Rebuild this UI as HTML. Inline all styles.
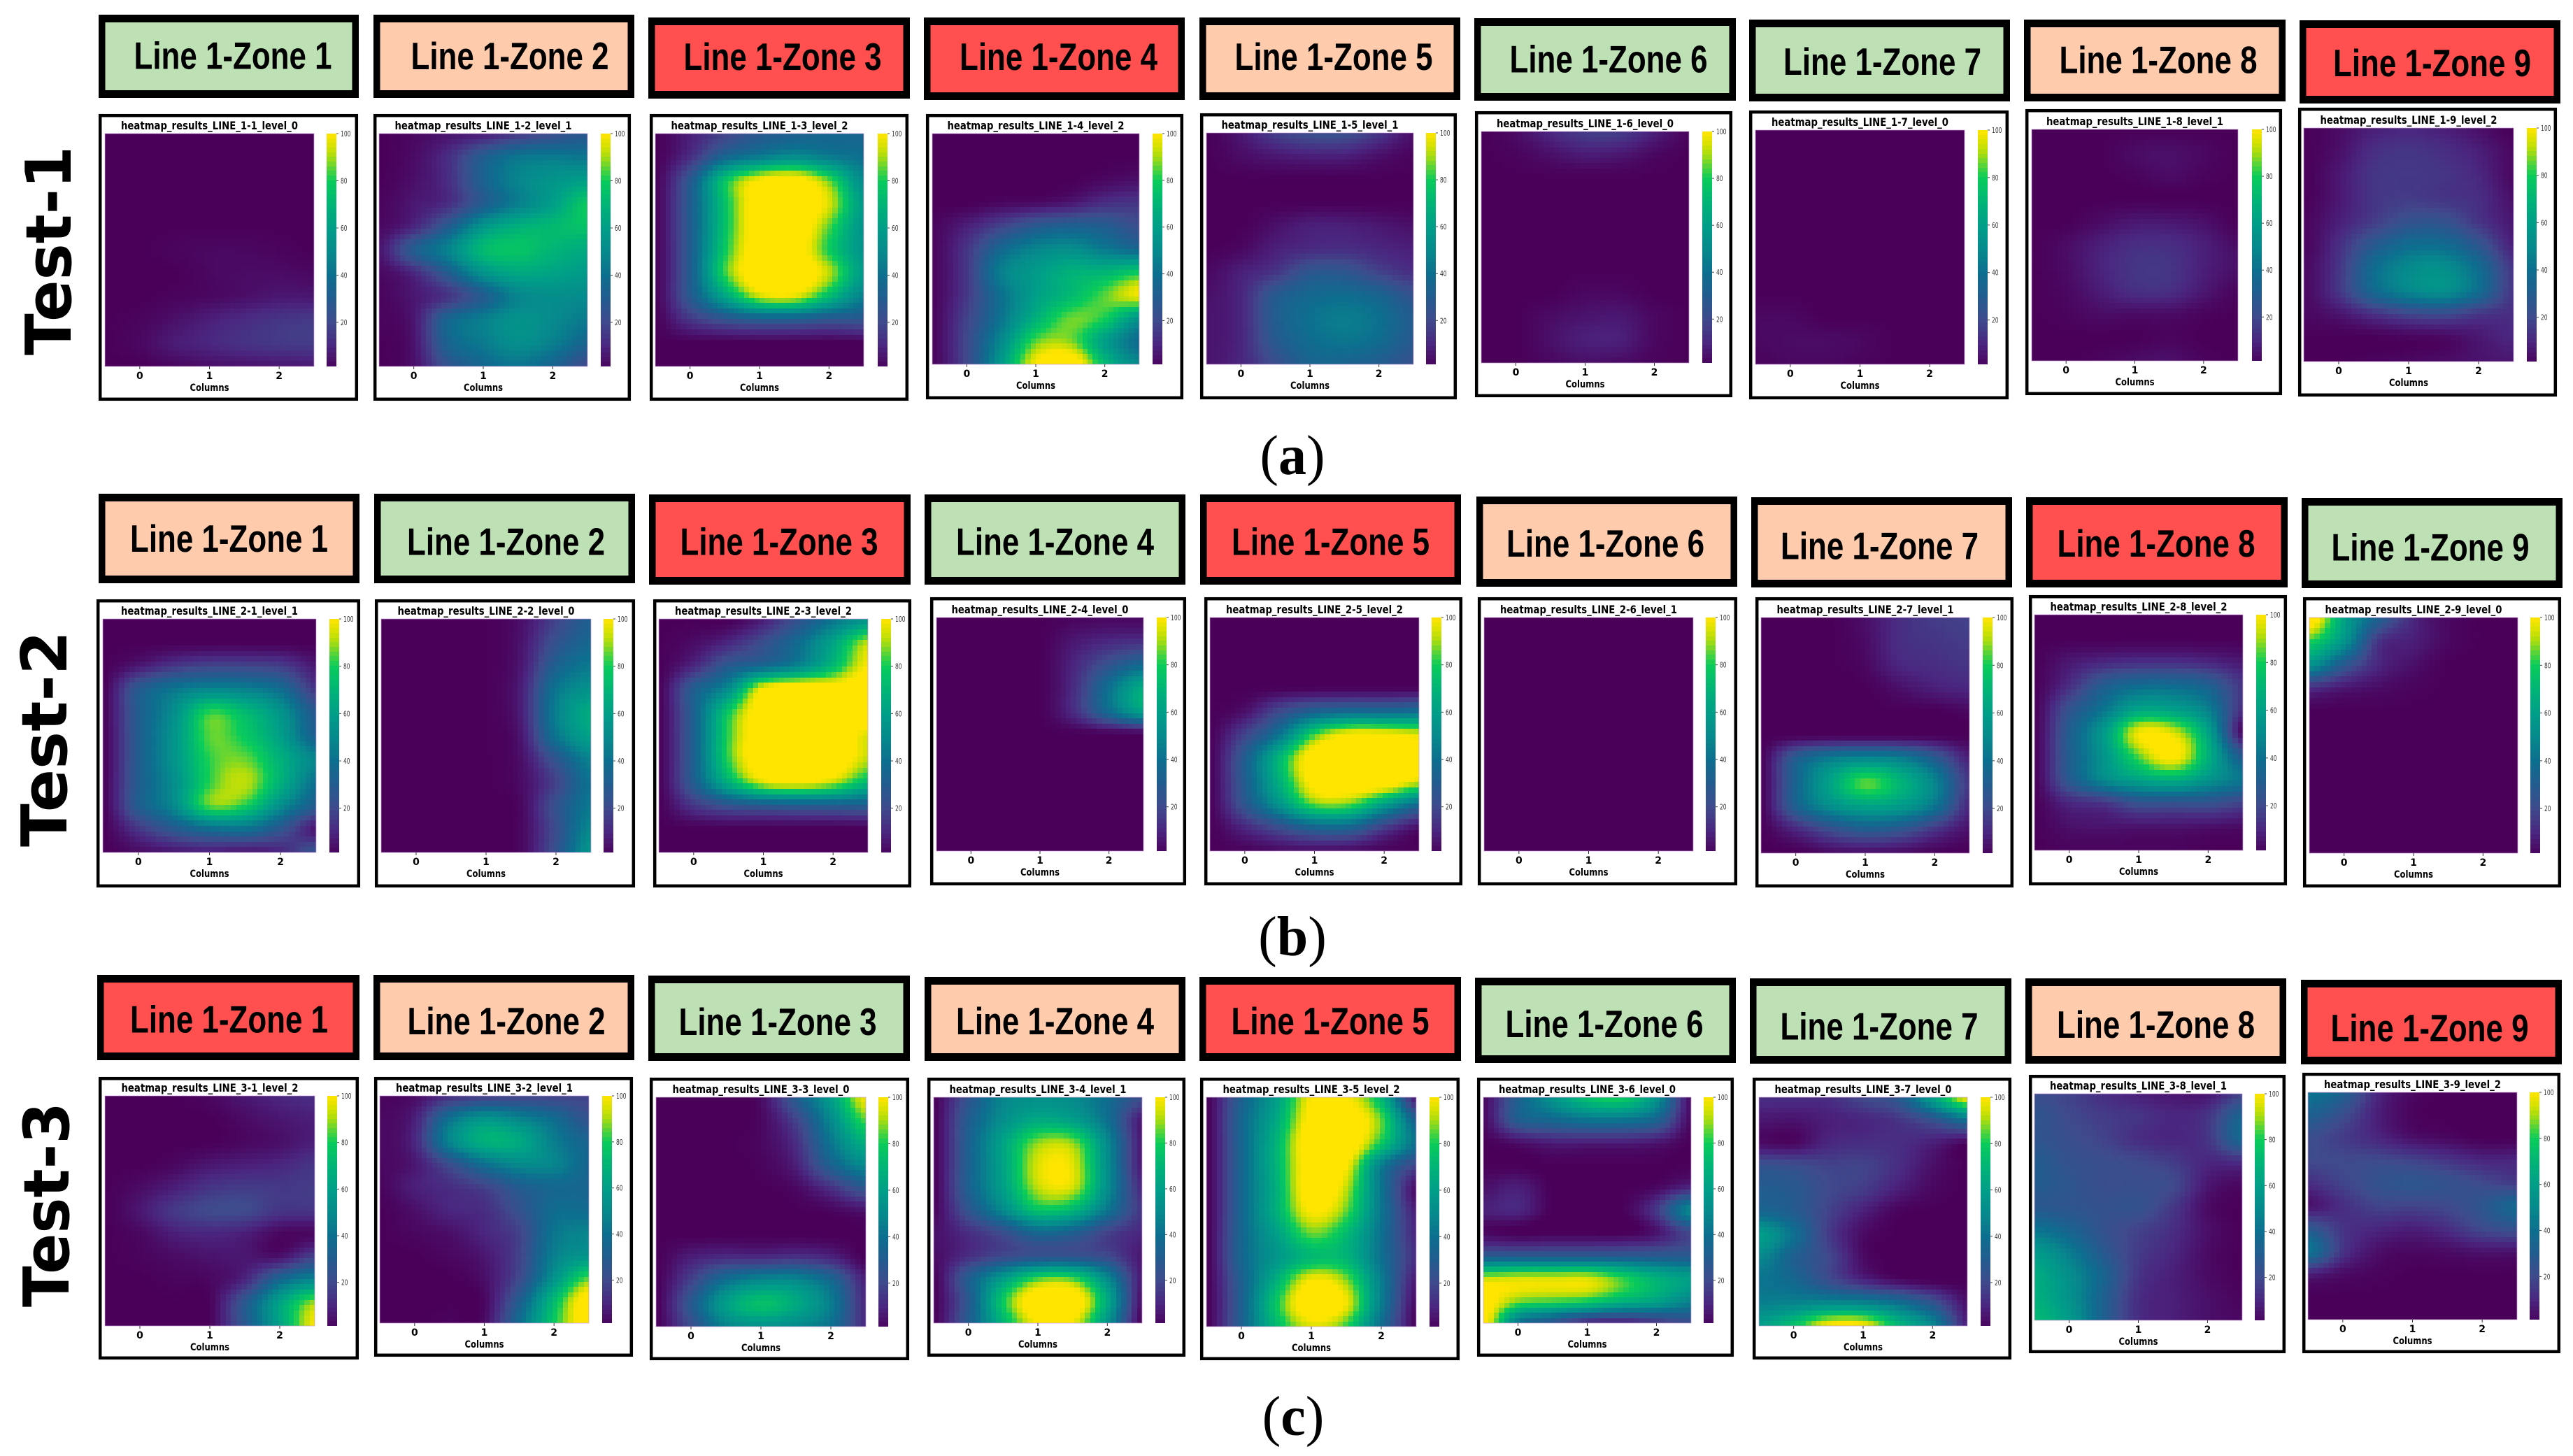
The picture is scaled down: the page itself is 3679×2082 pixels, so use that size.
<!DOCTYPE html>
<html lang="en">
<head>
<meta charset="utf-8">
<title>Heatmap results by line zone for Test-1, Test-2 and Test-3</title>
<style>
  html, body { margin: 0; padding: 0; background: #fff; }
  svg { display: block; }
  .zone-text { font-family: "Liberation Sans", sans-serif; font-weight: 700; font-size: 55px; fill: #000; }
  .panel-title { font-family: "DejaVu Sans", sans-serif; font-weight: 700; font-size: 16px; fill: #000; }
  .tick-text { font-family: "DejaVu Sans", sans-serif; font-weight: 700; font-size: 14px; fill: #000; }
  .cb-text { font-family: "DejaVu Sans", sans-serif; font-size: 10.5px; fill: #333; }
  .row-title { font-family: "DejaVu Sans", sans-serif; font-weight: 700; font-size: 90px; fill: #000; }
  .sub-caption { font-family: "Liberation Serif", serif; font-size: 80px; fill: #000; }
</style>
</head>
<body>
<svg id="figure" xmlns="http://www.w3.org/2000/svg" width="3679" height="2082" viewBox="0 0 3679 2082">
  <rect x="0" y="0" width="3679" height="2082" fill="#ffffff"/>
  <text class="row-title" transform="translate(101,508) rotate(-90)" textLength="299" lengthAdjust="spacingAndGlyphs">Test-1</text>
  <text class="row-title" transform="translate(95,1211) rotate(-90)" textLength="309" lengthAdjust="spacingAndGlyphs">Test-2</text>
  <text class="row-title" transform="translate(98,1869) rotate(-90)" textLength="293" lengthAdjust="spacingAndGlyphs">Test-3</text>
  <text class="sub-caption" x="1848" y="678" text-anchor="middle">(<tspan font-weight="700">a</tspan>)</text>
  <text class="sub-caption" x="1848" y="1366" text-anchor="middle">(<tspan font-weight="700">b</tspan>)</text>
  <text class="sub-caption" x="1849" y="2052" text-anchor="middle">(<tspan font-weight="700">c</tspan>)</text>
</svg>
<script>
// ---------- tick labels and text ----------
const columnTicks = ['0', '1', '2'];
const colorbarTicks = [20, 40, 60, 80, 100];
const xAxisTitle = 'Columns';
const zoneLabels = ['Line 1-Zone 1','Line 1-Zone 2','Line 1-Zone 3','Line 1-Zone 4','Line 1-Zone 5','Line 1-Zone 6','Line 1-Zone 7','Line 1-Zone 8','Line 1-Zone 9'];
const panelTitles = [
  'heatmap_results_LINE_1-1_level_0','heatmap_results_LINE_1-2_level_1','heatmap_results_LINE_1-3_level_2','heatmap_results_LINE_1-4_level_2','heatmap_results_LINE_1-5_level_1','heatmap_results_LINE_1-6_level_0','heatmap_results_LINE_1-7_level_0','heatmap_results_LINE_1-8_level_1','heatmap_results_LINE_1-9_level_2',
  'heatmap_results_LINE_2-1_level_1','heatmap_results_LINE_2-2_level_0','heatmap_results_LINE_2-3_level_2','heatmap_results_LINE_2-4_level_0','heatmap_results_LINE_2-5_level_2','heatmap_results_LINE_2-6_level_1','heatmap_results_LINE_2-7_level_1','heatmap_results_LINE_2-8_level_2','heatmap_results_LINE_2-9_level_0',
  'heatmap_results_LINE_3-1_level_2','heatmap_results_LINE_3-2_level_1','heatmap_results_LINE_3-3_level_0','heatmap_results_LINE_3-4_level_1','heatmap_results_LINE_3-5_level_2','heatmap_results_LINE_3-6_level_0','heatmap_results_LINE_3-7_level_0','heatmap_results_LINE_3-8_level_1','heatmap_results_LINE_3-9_level_2'
];
const panelLevels = [0,1,2,2,1,0,0,1,2, 1,0,2,0,2,1,1,2,0, 2,1,0,1,2,0,0,1,2];

// ---------- heatmap values: 11 rows (top to bottom) x 7 samples (left to right) ----------
const line1Zone1 = [[0,0,0,0,0,0,0],[0,0,0,0,0,0,0],[0,0,0,0,0,0,0],[0,0,0,0,0,0,0],[0,0,0,0,0,0,0],[0,0,1,2,2,1,0],[0,0,0,2,3,3,2],[0,0,1,2,4,6,6],[0,1,4,8,11,14,15],[0,2,7,10,13,15,16],[0,0,2,4,5,6,7]];
const line1Zone2 = [[0,2,5,8,15,22,28],[0,3,12,30,42,44,42],[0,4,12,33,48,55,60],[1,6,12,30,46,60,78],[2,10,30,56,68,72,76],[5,30,48,72,76,70,65],[2,10,30,54,64,62,58],[1,6,14,30,48,52,50],[1,6,35,46,54,50,44],[0,5,34,44,52,46,34],[0,4,25,36,42,34,20]];
const line1Zone3 = [[0,8,18,28,32,35,35],[0,12,35,45,52,45,40],[0,28,75,100,105,85,50],[0,30,75,108,110,95,58],[0,30,75,108,110,85,55],[0,30,78,108,108,80,55],[0,30,82,110,110,92,58],[0,28,62,92,95,72,46],[0,14,24,30,30,26,26],[0,0,0,0,0,0,0],[0,0,0,0,0,0,0]];
const line1Zone4 = [[0,0,0,0,0,0,0],[0,0,0,0,0,0,0],[0,0,0,0,0,2,4],[0,0,2,3,6,12,14],[1,8,18,28,32,30,22],[1,14,36,48,52,44,36],[1,15,46,58,68,70,78],[1,15,40,60,72,85,98],[1,18,42,68,86,80,55],[1,20,50,85,88,60,38],[1,20,58,100,110,72,50]];
const line1Zone5 = [[0,6,16,22,22,14,4],[0,3,6,8,8,4,1],[0,0,0,0,0,0,0],[0,0,0,0,0,0,0],[0,0,4,8,8,6,4],[0,2,8,11,12,10,8],[2,8,14,26,26,18,12],[4,10,28,36,38,34,24],[5,10,30,40,45,40,30],[5,10,28,38,42,38,28],[5,10,22,34,34,30,24]];
const line1Zone6 = [[0,3,10,16,16,8,1],[0,1,4,7,6,2,0],[0,0,0,0,0,0,0],[0,0,0,0,0,0,0],[0,0,0,0,0,0,0],[0,0,0,0,0,0,0],[0,0,0,0,0,0,0],[0,0,0,2,2,0,0],[0,0,3,5,6,2,0],[0,0,4,8,8,2,0],[0,0,2,4,3,1,0]];
const line1Zone7 = [[0,0,0,0,0,0,0],[0,0,0,0,0,0,0],[0,0,0,0,0,0,0],[0,0,0,0,0,0,0],[0,0,0,0,0,0,0],[0,0,0,0,0,0,0],[0,0,0,0,0,0,0],[0,0,0,0,0,0,0],[2,2,0,0,0,0,0],[2,3,3,2,0,0,0],[1,2,2,1,0,0,0]];
const line1Zone8 = [[0,0,0,0,0,0,0],[0,0,0,3,4,2,0],[0,0,0,1,3,1,0],[0,0,0,0,0,0,0],[0,0,3,6,6,4,0],[0,3,8,12,12,8,3],[0,3,9,14,14,8,4],[0,2,7,12,12,6,1],[0,1,3,3,3,1,0],[0,0,0,0,1,0,0],[0,0,1,3,4,1,0]];
const line1Zone9 = [[0,3,8,10,8,4,0],[0,4,12,14,12,8,2],[0,6,14,15,14,10,2],[0,6,14,16,14,12,4],[1,8,16,24,24,14,6],[1,12,28,38,38,26,8],[2,14,38,50,52,38,14],[2,14,36,48,52,38,14],[2,5,12,18,20,14,12],[0,0,0,1,2,6,10],[0,0,1,2,3,5,6]];

const line2Zone1 = [[0,0,0,0,0,0,0],[0,0,0,0,0,0,0],[0,6,14,18,18,16,6],[0,28,42,48,46,38,14],[0,30,52,82,72,55,28],[0,30,55,85,78,60,32],[0,30,55,82,86,68,48],[0,30,52,82,92,68,40],[0,30,50,85,80,52,30],[0,14,28,38,40,26,6],[0,3,6,8,6,10,25]];
const line2Zone2 = [[0,0,0,0,4,18,32],[0,0,0,0,5,24,36],[0,0,0,0,6,32,44],[0,0,0,0,8,42,54],[0,0,0,0,8,46,66],[0,0,0,0,6,42,62],[0,0,0,0,4,26,48],[0,0,0,0,3,18,42],[0,0,0,0,2,24,44],[0,0,0,0,2,22,50],[0,0,0,0,2,24,56]];
const line2Zone3 = [[0,0,0,8,24,42,55],[0,3,10,22,38,62,92],[0,10,28,36,48,72,100],[0,30,52,100,108,105,110],[0,32,78,108,110,110,110],[0,32,82,110,110,110,95],[0,32,82,110,110,110,92],[0,30,68,95,100,92,72],[0,14,24,28,30,30,30],[0,0,0,0,0,0,0],[0,0,0,0,0,0,0]];
const line2Zone4 = [[0,0,0,0,1,2,2],[0,0,0,0,6,10,12],[0,0,0,0,10,24,36],[0,0,0,0,12,40,66],[0,0,0,0,12,38,62],[0,0,0,0,0,0,0],[0,0,0,0,0,0,0],[0,0,0,0,0,0,0],[0,0,0,0,0,0,0],[0,0,0,0,0,0,0],[0,0,0,0,0,0,0]];
const line2Zone5 = [[0,0,0,0,0,0,0],[0,0,0,0,0,0,0],[0,0,0,0,0,0,0],[0,0,0,0,0,0,0],[0,4,20,32,36,36,38],[0,18,42,82,100,100,95],[0,30,70,108,110,110,105],[0,30,68,105,110,110,95],[0,26,55,85,85,60,38],[0,10,22,34,34,16,4],[0,1,3,4,3,1,0]];
const line2Zone6 = [[0,0,0,0,0,0,0],[0,0,0,0,0,0,0],[0,0,0,0,0,0,0],[0,0,0,0,0,0,0],[0,0,0,0,0,0,0],[0,0,0,0,0,0,0],[0,0,0,0,0,0,0],[0,0,0,0,0,0,0],[0,0,0,0,0,0,0],[0,0,0,0,0,0,0],[0,0,0,0,0,0,0]];
const line2Zone7 = [[0,0,0,4,12,16,18],[0,0,0,3,12,14,16],[0,0,0,2,10,12,14],[0,0,0,0,4,8,10],[0,0,0,0,0,0,2],[0,0,0,0,0,0,0],[0,30,45,50,46,30,8],[0,34,62,85,70,48,14],[0,32,52,62,58,42,10],[0,10,22,30,26,14,4],[0,0,3,4,3,1,0]];
const line2Zone8 = [[0,0,0,0,0,0,0],[0,0,0,0,0,0,0],[0,6,10,12,12,10,6],[0,12,30,38,38,32,14],[0,24,42,62,60,46,12],[0,30,58,98,95,62,2],[0,30,55,85,102,68,28],[0,28,50,62,68,55,42],[0,10,14,24,24,24,18],[0,4,5,5,5,4,3],[0,1,1,1,1,0,0]];
const line2Zone9 = [[110,62,32,10,2,0,0],[82,55,14,8,2,0,0],[55,28,10,4,0,0,0],[12,6,3,1,0,0,0],[0,0,0,0,0,0,0],[0,0,0,0,0,0,0],[0,0,0,0,0,0,0],[0,0,0,0,0,0,0],[0,0,0,0,0,0,0],[0,0,0,0,0,0,0],[0,0,0,0,0,0,0]];

const line3Zone1 = [[0,0,0,2,6,10,12],[0,0,0,0,3,6,8],[0,0,0,0,2,4,8],[0,0,2,6,8,10,14],[0,3,8,14,16,15,16],[0,6,15,20,20,14,14],[0,2,8,10,8,2,2],[0,1,3,5,6,5,18],[0,0,1,2,10,36,50],[0,0,0,1,28,62,90],[0,0,0,1,28,62,100]];
const line3Zone2 = [[1,3,12,16,18,18,18],[2,8,40,55,48,38,24],[2,10,48,68,65,45,34],[2,6,22,40,50,48,35],[1,8,12,18,30,36,35],[0,4,10,12,24,38,38],[0,2,4,10,18,42,48],[0,0,2,6,18,46,55],[0,0,0,4,20,54,85],[0,0,0,2,30,72,108],[0,0,1,3,38,78,108]];
const line3Zone3 = [[0,0,0,3,30,60,100],[0,0,0,2,18,50,85],[0,0,0,2,12,42,68],[0,0,0,1,8,32,50],[0,0,0,0,2,12,26],[0,0,0,0,0,1,4],[0,0,0,0,0,0,0],[0,8,12,12,14,10,0],[0,18,40,50,50,36,8],[0,28,60,75,65,45,10],[0,22,48,54,50,40,10]];
const line3Zone4 = [[0,25,48,52,50,38,22],[0,30,52,65,60,40,6],[0,32,62,88,88,50,6],[0,32,62,95,96,52,6],[0,32,60,92,94,52,10],[1,25,50,75,70,42,14],[4,12,22,36,32,18,10],[3,12,20,24,24,20,6],[0,30,58,82,82,50,6],[0,28,78,110,110,65,3],[0,30,70,100,98,55,0]];
const line3Zone5 = [[0,32,60,100,100,70,5],[0,35,65,105,110,85,32],[0,35,70,110,110,78,40],[0,35,70,108,100,45,18],[0,35,68,108,92,42,3],[0,35,68,100,85,42,8],[0,35,60,85,72,40,10],[0,35,56,72,70,40,12],[0,32,68,100,88,45,6],[0,32,78,110,98,45,2],[0,32,72,95,82,38,0]];
const line3Zone6 = [[2,32,55,75,80,55,2],[2,30,36,42,42,34,2],[0,4,8,8,8,6,0],[0,0,0,0,0,0,0],[4,8,0,0,0,2,10],[8,10,0,0,0,15,50],[2,0,0,0,0,5,20],[28,28,28,28,28,28,28],[92,94,94,94,82,68,60],[105,88,84,80,70,62,48],[105,42,25,10,8,14,22]];
const line3Zone7 = [[12,12,12,20,28,62,100],[6,5,8,10,14,24,40],[3,2,10,12,12,8,2],[24,22,18,18,12,4,0],[30,28,20,16,8,2,0],[36,30,18,8,1,0,0],[60,40,16,3,0,0,0],[50,32,20,3,0,0,0],[42,36,22,10,3,0,0],[46,48,50,48,40,25,4],[60,76,100,100,72,50,8]];
const line3Zone8 = [[22,18,12,8,6,6,18],[26,20,16,14,10,14,34],[26,22,18,12,10,14,36],[30,24,22,20,16,10,12],[30,26,22,22,20,6,2],[28,26,24,24,15,3,0],[42,34,24,18,12,4,0],[58,45,28,16,10,3,0],[66,52,34,14,8,3,0],[68,54,32,12,8,4,1],[72,58,32,12,8,4,2]];
const line3Zone9 = [[42,32,10,2,0,0,0],[32,22,8,1,0,0,0],[22,16,10,4,2,0,0],[20,20,20,18,14,10,10],[12,18,24,26,24,20,16],[5,12,18,18,20,26,36],[28,14,10,8,12,20,24],[42,14,4,2,3,5,5],[8,3,1,0,0,0,0],[0,0,0,0,0,0,0],[0,0,0,0,0,0,0]];

const panelValues = [
  line1Zone1,line1Zone2,line1Zone3,line1Zone4,line1Zone5,line1Zone6,line1Zone7,line1Zone8,line1Zone9,
  line2Zone1,line2Zone2,line2Zone3,line2Zone4,line2Zone5,line2Zone6,line2Zone7,line2Zone8,line2Zone9,
  line3Zone1,line3Zone2,line3Zone3,line3Zone4,line3Zone5,line3Zone6,line3Zone7,line3Zone8,line3Zone9
];

// ---------- page layout (not chart data): frames of each label and panel ----------
const labelFrames = [
  [141,513,21,140],[534,907,21,140],[927,1301,25,141],[1321,1694,25,143],[1715,2088,25,143],[2108,2482,26,144],[2501,2874,28,145],[2894,3268,28,145],[3288,3661,29,148],
  [141,514,706,834],[535,908,706,834],[928,1302,707,836],[1322,1695,707,836],[1716,2089,707,836],[2111,2484,710,839],[2504,2877,711,840],[2897,3271,711,840],[3291,3664,712,841],
  [139,514,1394,1516],[534,907,1394,1516],[927,1301,1395,1517],[1322,1695,1397,1517],[1715,2089,1397,1517],[2109,2482,1398,1520],[2502,2876,1399,1521],[2896,3269,1399,1521],[3290,3663,1401,1522]
];
const labelTextShiftX = [
  6,8.5,5,6,5.5,5,4,5,3,
  0,2,-1,0,0,-2,-3,-1,-2.5,
  1,3.5,-2,0,0,-1.5,-2,0,-2.5
];
const labelTextShiftY = [
  18,18.5,17,16,16,18.6,20.7,18,20.5,
  19,23.6,22,22,22,21.5,24,20.5,25,
  21.6,24,24,22,22,24,26.5,24,27.5
];
const panelFrames = [
  [141,512,163,573],[534,902,163,573],[929,1299,163,573],[1324,1692,163,571],[1716,2083,162,571],[2109,2477,159,568],[2501,2872,158,571],[2896,3263,156,565],[3286,3656,154,567],
  [138,515,857,1269],[536,908,857,1269],[934,1303,857,1269],[1330,1696,854,1266],[1722,2091,854,1266],[2113,2484,854,1266],[2510,2879,854,1269],[2901,3270,851,1266],[3293,3662,854,1269],
  [141,513,1540,1944],[535,905,1540,1940],[929,1300,1541,1945],[1326,1695,1541,1940],[1716,2087,1541,1945],[2112,2479,1541,1940],[2506,2876,1541,1944],[2901,3268,1537,1935],[3292,3661,1534,1935]
];
const plotFrames = [
  [150,449,191,524,467],[542,840,191,524,859],[937,1235,191,524,1255],[1333,1629,191,521,1648],[1725,2021,190,521,2039],[2118,2415,188,519,2434],[2510,2809,186,521,2828],[2905,3200,185,516,3220],[3294,3594,183,517,3613],
  [147,452,885,1219,471],[545,845,885,1219,863],[942,1241,885,1219,1260],[1339,1635,883,1217,1654],[1730,2029,883,1217,2047],[2122,2421,883,1217,2439],[2518,2816,883,1220,2835],[2909,3207,879,1216,3226],[3302,3600,883,1220,3618],
  [150,450,1567,1896,468],[543,842,1567,1892,861],[938,1238,1569,1897,1256],[1335,1633,1569,1892,1652],[1725,2025,1569,1897,2044],[2121,2418,1569,1892,2436],[2515,2813,1569,1896,2832],[2909,3206,1564,1888,3224],[3300,3599,1562,1887,3617]
];
const labelFills = ['#bde0b5', '#ffcbad', '#ff4f4f'];

// ---------- colour scale ----------
const colorStops = [
  [0,74,0,89],[10,74,38,128],[20,63,74,140],[30,34,92,143],[40,13,111,143],[50,6,138,140],[60,0,158,136],
  [70,0,180,118],[80,10,204,90],[85,85,212,58],[90,168,220,16],[95,220,226,0],[100,255,229,0]
];
const colorFloor = 1.3;
function colorScale(v) {
  const t = Math.max(0, Math.min(100, v));
  for (let i = 1; i < colorStops.length; i++) {
    if (t <= colorStops[i][0]) {
      const a = colorStops[i - 1], b = colorStops[i];
      const f = (t - a[0]) / (b[0] - a[0]);
      return 'rgb(' + Math.round(a[1] + (b[1] - a[1]) * f) + ',' + Math.round(a[2] + (b[2] - a[2]) * f) + ',' + Math.round(a[3] + (b[3] - a[3]) * f) + ')';
    }
  }
  return 'rgb(255,229,0)';
}

// ---------- resampling of the value grid to display cells ----------
function cubic(p0, p1, p2, p3, t) {
  return 0.5 * (2 * p1 + (p2 - p0) * t + (2 * p0 - 5 * p1 + 4 * p2 - p3) * t * t + (3 * p1 - p0 - 3 * p2 + p3) * t * t * t);
}
function sampleGrid(grid, u, v) {
  const rows = grid.length, cols = grid[0].length;
  const fy = v * (rows - 1), fx = u * (cols - 1);
  const iy = Math.min(rows - 2, Math.floor(fy)), ix = Math.min(cols - 2, Math.floor(fx));
  const ty = fy - iy, tx = fx - ix;
  const col = [];
  for (let r = -1; r <= 2; r++) {
    const row = grid[Math.max(0, Math.min(rows - 1, iy + r))];
    col.push(cubic(row[Math.max(0, ix - 1)], row[ix], row[ix + 1], row[Math.min(cols - 1, ix + 2)], tx));
  }
  return cubic(col[0], col[1], col[2], col[3], ty);
}

// ---------- drawing ----------
const NS = 'http://www.w3.org/2000/svg';
const svg = document.getElementById('figure');
function make(tag, parent, attrs, text) {
  const el = document.createElementNS(NS, tag);
  for (const k in attrs) el.setAttribute(k, attrs[k]);
  if (text !== undefined) el.textContent = text;
  parent.appendChild(el);
  return el;
}
const CELLS_X = 40, CELLS_Y = 44, BAR_STEPS = 50, BAR_WIDTH = 14;

panelTitles.forEach(function (title, p) {
  const zoneIndex = p % 9;
  const rowIndex = Math.floor(p / 9);

  // zone label
  const lf = labelFrames[p];
  const labelGroup = make('g', svg, {});
  
  
  make('rect', labelGroup, { x: lf[0], y: lf[2], width: lf[1] - lf[0], height: lf[3] - lf[2], fill: '#000' });
  make('rect', labelGroup, { x: lf[0] + 9.5, y: lf[2] + 11, width: lf[1] - lf[0] - 19, height: lf[3] - lf[2] - 22, fill: labelFills[panelLevels[p]] });
  make('text', labelGroup, { 'class': 'zone-text', x: (lf[0] + lf[1]) / 2 + labelTextShiftX[p], y: (lf[2] + lf[3]) / 2 + labelTextShiftY[p], 'text-anchor': 'middle', textLength: 283, lengthAdjust: 'spacingAndGlyphs' }, zoneLabels[zoneIndex]);

  // panel frame
  const pf = panelFrames[p], hf = plotFrames[p];
  const panel = make('g', svg, {});
  
  
  make('rect', panel, { x: pf[0] + 2.2, y: pf[2] + 2.2, width: pf[1] - pf[0] - 4.4, height: pf[3] - pf[2] - 4.4, fill: '#fff', stroke: '#000', 'stroke-width': 4.5 });

  const left = hf[0], right = hf[1], top = hf[2], bottom = hf[3], barX = hf[4];
  const width = right - left, height = bottom - top, midX = (left + right) / 2;
  const xScale = function (u) { return left + u * width; };
  const yScale = function (v) { return top + v * height; };
  const barY = function (v) { return top + (100 - v) / (100 - colorFloor) * height; };

  // heatmap cells
  const grid = panelValues[p];
  const cells = make('g', panel, { 'shape-rendering': 'crispEdges' });
  
  
  for (let cy = 0; cy < CELLS_Y; cy++) {
    for (let cx = 0; cx < CELLS_X; cx++) {
      const value = sampleGrid(grid, (cx + 0.5) / CELLS_X, (cy + 0.5) / CELLS_Y);
      const x0 = Math.round(xScale(cx / CELLS_X)), x1 = Math.round(xScale((cx + 1) / CELLS_X));
      const y0 = Math.round(yScale(cy / CELLS_Y)), y1 = Math.round(yScale((cy + 1) / CELLS_Y));
      const cell = make('rect', cells, { x: x0, y: y0, width: x1 - x0, height: y1 - y0, fill: colorScale(value) });
      
      
    }
  }
  make('rect', panel, { x: left, y: top, width: width, height: height, fill: 'none', stroke: '#c9a0d4', 'stroke-width': 1, opacity: 0.7 });

  // title
  const titleEl = make('text', panel, { 'class': 'panel-title', x: midX, y: top - 6, 'text-anchor': 'middle', textLength: 253, lengthAdjust: 'spacingAndGlyphs' }, title);
  
  

  // x axis
  columnTicks.forEach(function (tick, i) {
    const tx = xScale((i + 0.5) / columnTicks.length);
    make('line', panel, { x1: tx, x2: tx, y1: bottom, y2: bottom + 4, stroke: '#333', 'stroke-width': 1 });
    const t = make('text', panel, { 'class': 'tick-text', x: tx, y: bottom + 18, 'text-anchor': 'middle' }, tick);
    
    
  });
  const axisEl = make('text', panel, { 'class': 'tick-text', x: midX, y: bottom + 35, 'text-anchor': 'middle', textLength: 56, lengthAdjust: 'spacingAndGlyphs' }, xAxisTitle);
  
  

  // colour bar
  const bar = make('g', panel, { 'shape-rendering': 'crispEdges' });
  
  
  for (let s = 0; s < BAR_STEPS; s++) {
    const hi = 100 - s * (100 - colorFloor) / BAR_STEPS;
    const lo = 100 - (s + 1) * (100 - colorFloor) / BAR_STEPS;
    const y0 = Math.round(barY(hi)), y1 = Math.round(barY(lo));
    make('rect', bar, { x: barX, y: y0, width: BAR_WIDTH, height: y1 - y0, fill: colorScale((hi + lo) / 2) });
  }
  colorbarTicks.forEach(function (tick) {
    const ty = barY(tick);
    make('line', panel, { x1: barX + BAR_WIDTH, x2: barX + BAR_WIDTH + 3, y1: ty, y2: ty, stroke: '#444', 'stroke-width': 1 });
    const t = make('text', panel, { 'class': 'cb-text', x: barX + BAR_WIDTH + 6, y: ty + 4, textLength: tick === 100 ? 14.5 : 9.5, lengthAdjust: 'spacingAndGlyphs' }, String(tick));
    
    
  });
});
</script>
</body>
</html>
